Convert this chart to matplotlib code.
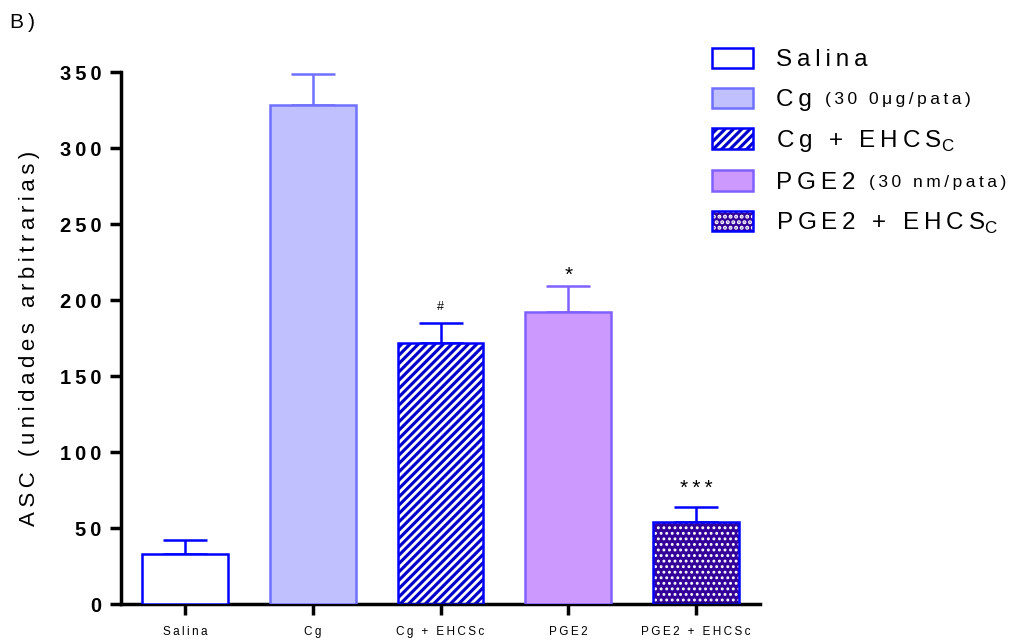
import numpy as np
import matplotlib
matplotlib.use('Agg')
import matplotlib.pyplot as plt
from matplotlib.patches import Patch
from matplotlib.legend_handler import HandlerTuple

plt.rcParams['font.family'] = ['Liberation Sans', 'DejaVu Sans']
plt.rcParams['hatch.linewidth'] = 2.0

# data
groups = ['Salina', 'Cg', 'Cg + EHCSc', 'PGE2', 'PGE2 + EHCSc']
means = [33, 328, 172, 192, 54]
errs = [9, 21, 13, 17, 10]
marks = ['', '', '#', '*', '***']

legend_main = ['Salina', 'Cg', 'Cg + EHCS', 'PGE2', 'PGE2 + EHCS']
legend_sub = ['', '(30 0\u03bcg/pata)', '', '(30 nm/pata)', '']

faces = ['white', '#c0c0ff', '#0000cc', '#cc99ff', '#330099']
edges = ['#0000ff', '#7070ff', '#0000ff', '#8060ff', '#0000ff']
hatches = [None, None, '////', None, '...']
hatch_lw = [2.0, 2.0, 2.0, 2.0, 1.3]

SP = '\u2009'


def spaced(s):
    # wide letter spacing like the original
    return SP.join(s)


fig = plt.figure(figsize=(10.3, 6.41), dpi=100)
ax = fig.add_axes([121/1030, 37/641, 639/1030, 532/641])

x = np.arange(len(groups))
w = 0.67
for i in range(len(groups)):
    if hatches[i]:
        with plt.rc_context({'hatch.linewidth': hatch_lw[i]}):
            ax.bar(x[i], means[i], w, color=faces[i], edgecolor='white',
                   hatch=hatches[i], linewidth=0, zorder=2)
        ax.bar(x[i], means[i], w, fill=False, edgecolor=edges[i],
               linewidth=1.8, zorder=3)
    else:
        ax.bar(x[i], means[i], w, color=faces[i], edgecolor=edges[i],
               linewidth=1.8, zorder=3)
    ax.errorbar(x[i], means[i], yerr=[[0], [errs[i]]], fmt='none',
                ecolor=edges[i], elinewidth=1.8, capsize=15.5, capthick=1.8,
                zorder=1)
    if marks[i] == '#':
        ax.annotate(marks[i], (x[i], means[i] + errs[i]),
                    xytext=(0, 7), textcoords='offset points',
                    ha='center', va='bottom', fontsize=9)
    elif marks[i]:
        off = 1 if len(marks[i]) == 1 else 6
        ax.annotate(spaced(marks[i]), (x[i], means[i] + errs[i]),
                    xytext=(0, off), textcoords='offset points',
                    ha='center', va='bottom', fontsize=15)

ax.set_xlim(-0.5, 4.5)
ax.set_ylim(0, 350)
ax.set_yticks(np.arange(0, 351, 50))
ax.set_yticklabels([spaced(str(v)) for v in range(0, 351, 50)],
                   fontsize=14.5, fontweight='bold')
ax.set_xticks(x)
ax.set_xticklabels([spaced(s) for s in groups], fontsize=8.5)
ax.tick_params(axis='x', length=8, width=2.5, pad=8)
ax.tick_params(axis='y', length=8, width=2.5, pad=6)
for s in ['top', 'right']:
    ax.spines[s].set_visible(False)
for s in ['left', 'bottom']:
    ax.spines[s].set_linewidth(2.5)

ax.set_ylabel(spaced('ASC (unidades arbitrarias)'), fontsize=16, labelpad=14)

fig.text(10/1030, 1 - 22/641, 'B' + SP + ')', fontsize=15, va='center')

# legend
handles = []
for i in range(len(groups)):
    if hatches[i]:
        with plt.rc_context({'hatch.linewidth': hatch_lw[i]}):
            h1 = Patch(facecolor=faces[i], edgecolor='white',
                       hatch=hatches[i], linewidth=0)
        h2 = Patch(fill=False, edgecolor=edges[i], linewidth=1.8)
        handles.append((h1, h2))
    else:
        handles.append(Patch(facecolor=faces[i], edgecolor=edges[i],
                             linewidth=1.8))
labels = []
for m in legend_main:
    if m.endswith('EHCS'):
        labels.append(spaced(m) + r'$_\mathregular{C}$')
    else:
        labels.append(spaced(m))
leg = fig.legend(handles, labels, loc='upper left',
                 bbox_to_anchor=(690/1030, 1 - 26/641), frameon=False,
                 fontsize=17.5, handlelength=1.7, handleheight=0.9,
                 labelspacing=0.68, handletextpad=0.95,
                 handler_map={tuple: HandlerTuple(ndivide=1)})

fig.canvas.draw()
for t, sub in zip(leg.get_texts(), legend_sub):
    if sub:
        bb = t.get_window_extent()
        fig.text((bb.x1 + 13) / 1030, (bb.y0 + 4) / 641, spaced(sub),
                 fontsize=12.5, ha='left', va='bottom')

fig.savefig('out.png', dpi=100)
